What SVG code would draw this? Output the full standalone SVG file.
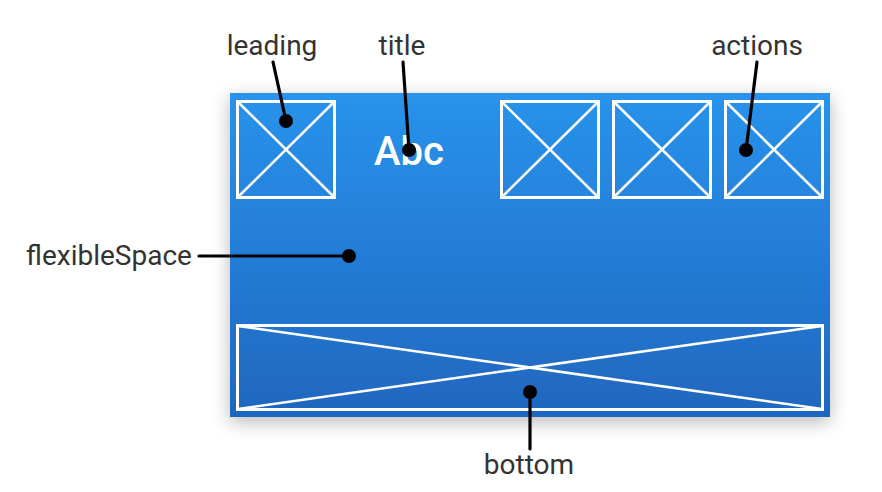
<svg xmlns="http://www.w3.org/2000/svg" width="882" height="492" viewBox="0 0 882 492">
<defs>
<linearGradient id="bg" x1="0" y1="0" x2="0" y2="1">
<stop offset="0" stop-color="#2993ec"/>
<stop offset="1" stop-color="#1f66bf"/>
</linearGradient>
<filter id="sh" x="-10%" y="-15%" width="120%" height="135%">
<feDropShadow dx="0" dy="5" stdDeviation="9" flood-color="#000" flood-opacity="0.28"/>
</filter>
</defs>
<style>
.lbl{font-family:Roboto,"Liberation Sans",sans-serif;font-size:28px;fill:#333;text-anchor:middle}
.box{fill:none;stroke:#fff;stroke-width:3}
.x{stroke:#fff;stroke-width:2.5}
.con{stroke:#000;stroke-width:3.2;fill:none;stroke-linecap:round}
.dot{fill:#000}
</style>
<rect x="0" y="0" width="882" height="492" fill="#fff"/>
<g id="appbar">
<rect x="230" y="93" width="600" height="324" fill="url(#bg)" filter="url(#sh)"/>
</g>
<g id="leading">
<rect class="box" x="237.5" y="101.5" width="97" height="96"/>
<line class="x" x1="238" y1="102" x2="334" y2="197"/>
<line class="x" x1="334" y1="102" x2="238" y2="197"/>
</g>
<g id="title">
<text x="409" y="165" font-family="Roboto,'Liberation Sans',sans-serif" font-size="40" font-weight="500" fill="#fff" text-anchor="middle">Abc</text>
</g>
<g id="action1">
<rect class="box" x="501.5" y="101.5" width="97" height="96"/>
<line class="x" x1="502" y1="102" x2="598" y2="197"/>
<line class="x" x1="598" y1="102" x2="502" y2="197"/>
</g>
<g id="action2">
<rect class="box" x="613.5" y="101.5" width="97" height="96"/>
<line class="x" x1="614" y1="102" x2="710" y2="197"/>
<line class="x" x1="710" y1="102" x2="614" y2="197"/>
</g>
<g id="action3">
<rect class="box" x="725.5" y="101.5" width="97" height="96"/>
<line class="x" x1="726" y1="102" x2="822" y2="197"/>
<line class="x" x1="822" y1="102" x2="726" y2="197"/>
</g>
<g id="bottom">
<rect class="box" x="237.5" y="325.5" width="585" height="84"/>
<line class="x" x1="238" y1="326" x2="822" y2="409"/>
<line class="x" x1="822" y1="326" x2="238" y2="409"/>
</g>
<g id="labels">
<text class="lbl" x="272" y="55">leading</text>
<text class="lbl" x="402" y="55">title</text>
<text class="lbl" x="757" y="55">actions</text>
<text class="lbl" x="109" y="265">flexibleSpace</text>
<text class="lbl" x="529" y="474">bottom</text>
</g>
<g id="connectors">
<line class="con" x1="273" y1="62" x2="286" y2="121"/>
<circle class="dot" cx="286" cy="121" r="7"/>
<line class="con" x1="403" y1="62" x2="409" y2="150"/>
<circle class="dot" cx="409" cy="150" r="7"/>
<line class="con" x1="757" y1="62" x2="746" y2="150"/>
<circle class="dot" cx="746" cy="150" r="7"/>
<line class="con" x1="199" y1="256" x2="349" y2="256"/>
<circle class="dot" cx="349" cy="256" r="7"/>
<line class="con" x1="530" y1="392" x2="530" y2="449"/>
<circle class="dot" cx="530" cy="392" r="7"/>
</g>
</svg>
